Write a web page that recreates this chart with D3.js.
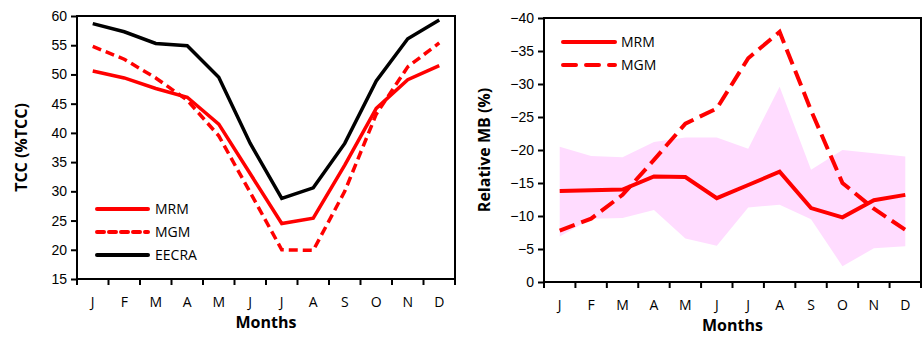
<!DOCTYPE html>
<html>
<head>
<meta charset="utf-8">
<script src="https://cdn.jsdelivr.net/npm/d3@7"></script>
<style>
  body { margin: 0; background: #fff; }
  svg { display: block; font-family: "Open Sans", "Noto Sans", sans-serif; }
</style>
</head>
<body>
<script>
const months = ["J", "F", "M", "A", "M", "J", "J", "A", "S", "O", "N", "D"];

// left panel: total cloud cover
const tccMRM = [50.6, 49.4, 47.6, 46.1, 41.5, 33.0, 24.5, 25.4, 34.5, 44.2, 49.1, 51.5];
const tccMGM = [54.8, 52.6, 49.4, 45.6, 39.5, 29.8, 20.0, 19.9, 30.0, 43.2, 51.3, 55.4];
const tccEECRA = [58.7, 57.3, 55.3, 54.9, 49.5, 38.2, 28.8, 30.6, 38.2, 48.9, 56.1, 59.3];
const tccTicks = [15, 20, 25, 30, 35, 40, 45, 50, 55, 60];

// right panel: relative mean bias
const mbMRM = [-13.8, -13.9, -14.0, -16.0, -15.9, -12.7, -14.7, -16.7, -11.2, -9.8, -12.4, -13.2];
const mbMGM = [-7.8, -9.6, -13.2, -18.5, -24.0, -26.3, -33.9, -37.9, -26.0, -15.0, -11.1, -7.9];
const bandHigh = [-20.5, -19.1, -18.9, -21.2, -21.9, -21.9, -20.2, -29.6, -17.0, -20.0, -19.5, -19.0];
const bandLow = [-6.9, -9.6, -9.7, -10.9, -6.6, -5.5, -11.3, -11.7, -9.5, -2.4, -5.1, -5.4];
const mbTicks = [0, -5, -10, -15, -20, -25, -30, -35, -40];

const W = 922, H = 337;
const svg = d3.select("body").append("svg").attr("width", W).attr("height", H);

function panel(opt) {
  const g = svg.append("g");
  const x = d3.scaleBand().domain(d3.range(12)).range([opt.x0, opt.x1]);
  const y = d3.scaleLinear().domain(opt.domain).range([opt.y1, opt.y0]);

  // x axis with ticks at category boundaries
  const xa = g.append("g").attr("transform", `translate(0,${opt.y1})`);
  xa.append("line").attr("x1", opt.x0).attr("x2", opt.x1).attr("stroke", "#000").attr("stroke-width", 2);
  xa.selectAll("line.tk").data(d3.range(13)).enter().append("line").attr("class", "tk")
    .attr("x1", d => opt.x0 + d * x.step()).attr("x2", d => opt.x0 + d * x.step())
    .attr("y1", 0).attr("y2", 6).attr("stroke", "#000").attr("stroke-width", 2);
  xa.selectAll("text").data(months).enter().append("text")
    .attr("x", (d, i) => x(i) + x.bandwidth() / 2).attr("y", 28)
    .attr("text-anchor", "middle").attr("font-size", 14).text(d => d);

  // y axis
  const ya = g.append("g").attr("transform", `translate(${opt.x0},0)`)
    .call(d3.axisLeft(y).tickValues(opt.ticks).tickSize(6).tickPadding(4).tickFormat(d3.format("d")));
  ya.select(".domain").remove();
  ya.selectAll(".tick line").attr("stroke-width", 2);
  ya.selectAll(".tick text").attr("font-size", 14).attr("fill", "#000").style("font-family", "inherit");

  // frame
  g.append("rect").attr("x", opt.x0).attr("y", opt.y0)
    .attr("width", opt.x1 - opt.x0).attr("height", opt.y1 - opt.y0)
    .attr("fill", "none").attr("stroke", "#000").attr("stroke-width", 2);

  // titles
  g.append("text").attr("x", (opt.x0 + opt.x1) / 2).attr("y", opt.y1 + 49)
    .attr("text-anchor", "middle").attr("font-size", 16).attr("font-weight", "bold").text("Months");
  g.append("text").attr("transform", `translate(${opt.tx},${(opt.y0 + opt.y1) / 2}) rotate(-90)`)
    .attr("text-anchor", "middle").attr("font-size", 16).attr("font-weight", "bold").text(opt.ytitle);

  const cx = i => x(i) + x.bandwidth() / 2;
  return { g, x, y, cx };
}

const line = (p, data) => d3.line().x((d, i) => p.cx(i)).y(d => p.y(d))(data);

// left panel
const L = panel({ x0: 77, x1: 455, y0: 16, y1: 279, domain: [15, 60], ticks: tccTicks, tx: 27, ytitle: "TCC (%TCC)" });
L.g.append("path").attr("d", line(L, tccEECRA)).attr("fill", "none").attr("stroke", "#000").attr("stroke-width", 3.5);
L.g.append("path").attr("d", line(L, tccMGM)).attr("fill", "none").attr("stroke", "#ff0000").attr("stroke-width", 3.5)
  .attr("stroke-dasharray", "9,5");
L.g.append("path").attr("d", line(L, tccMRM)).attr("fill", "none").attr("stroke", "#ff0000").attr("stroke-width", 3.5);

const legL = [
  { name: "MRM", color: "#ff0000", dash: null },
  { name: "MGM", color: "#ff0000", dash: "7,5" },
  { name: "EECRA", color: "#000", dash: null }
];
legL.forEach((d, i) => {
  const yy = 209 + i * 23;
  L.g.append("line").attr("x1", 97).attr("x2", 148).attr("y1", yy).attr("y2", yy)
    .attr("stroke", d.color).attr("stroke-width", 4).attr("stroke-linecap", "round")
    .attr("stroke-dasharray", d.dash);
  L.g.append("text").attr("x", 155).attr("y", yy + 5).attr("font-size", 14).text(d.name);
});

// right panel
const R = panel({ x0: 544, x1: 921, y0: 18, y1: 282, domain: [0, -40], ticks: mbTicks, tx: 490, ytitle: "Relative MB (%)" });
R.g.insert("path", ":first-child")
  .attr("d", d3.area().x((d, i) => R.cx(i)).y0((d, i) => R.y(bandLow[i])).y1(d => R.y(d))(bandHigh))
  .attr("fill", "#ffdcff");
R.g.append("path").attr("d", line(R, mbMGM)).attr("fill", "none").attr("stroke", "#ff0000").attr("stroke-width", 4)
  .attr("stroke-dasharray", "16,7");
R.g.append("path").attr("d", line(R, mbMRM)).attr("fill", "none").attr("stroke", "#ff0000").attr("stroke-width", 4);

const legR = [
  { name: "MRM", dash: null },
  { name: "MGM", dash: "13,10" }
];
legR.forEach((d, i) => {
  const yy = 42 + i * 23;
  R.g.append("line").attr("x1", 563).attr("x2", 615).attr("y1", yy).attr("y2", yy)
    .attr("stroke", "#ff0000").attr("stroke-width", 4).attr("stroke-linecap", "round")
    .attr("stroke-dasharray", d.dash);
  R.g.append("text").attr("x", 621).attr("y", yy + 5).attr("font-size", 14).text(d.name);
});
</script>
</body>
</html>
